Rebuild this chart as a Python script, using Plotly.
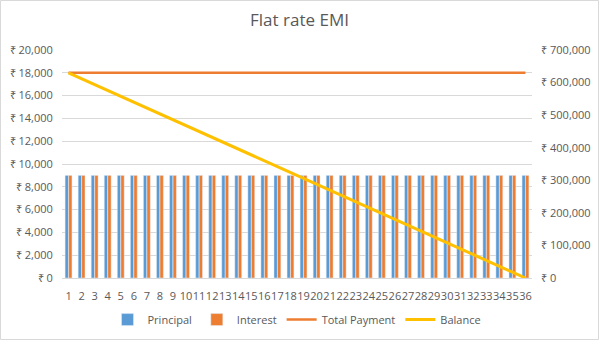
import plotly.graph_objects as go

months = [str(i) for i in range(1, 37)]
principal = [9000] * 36
interest = [9000] * 36
total_payment = [18000] * 36
balance = [630000, 612000, 594000, 576000, 558000, 540000, 522000, 504000, 486000,
           468000, 450000, 432000, 414000, 396000, 378000, 360000, 342000, 324000,
           306000, 288000, 270000, 252000, 234000, 216000, 198000, 180000, 162000,
           144000, 126000, 108000, 90000, 72000, 54000, 36000, 18000, 0]

FONT = "Open Sans"
GREY = "#595959"

fig = go.Figure()
fig.add_trace(go.Bar(x=months, y=principal, name="Principal", marker_color="#5B9BD5"))
fig.add_trace(go.Bar(x=months, y=interest, name="Interest", marker_color="#ED7D31"))
fig.add_trace(go.Scatter(x=months, y=total_payment, name="Total Payment", mode="lines",
                         line=dict(color="#ED7D31", width=2.5)))
fig.add_trace(go.Scatter(x=months, y=balance, name="Balance", mode="lines", yaxis="y2",
                         line=dict(color="#FFC000", width=3)))

L, R, T, B = 62, 67, 50, 62
W, H = 599, 340
pw, ph = W - L - R, H - T - B

fig.update_layout(
    width=W, height=H,
    margin=dict(l=L, r=R, t=T, b=B, autoexpand=False),
    paper_bgcolor="white", plot_bgcolor="white",
    font=dict(family=FONT, size=11, color=GREY),
    title=dict(text="Flat rate EMI", x=0.5, xanchor="center", y=0.94, yanchor="middle",
               font=dict(size=17, color=GREY, family=FONT)),
    barmode="group", bargap=0.46, bargroupgap=0.05,
    showlegend=True,
    legend=dict(orientation="h", x=0.5, xanchor="center", yref="container", y=0.06,
                yanchor="middle", font=dict(size=11, color=GREY), traceorder="normal"),
    xaxis=dict(showgrid=False, showline=True, linecolor="#d9d9d9", linewidth=1,
               tickfont=dict(size=11, color=GREY), ticks="outside", ticklen=8,
               tickcolor="rgba(0,0,0,0)", tickangle=0, automargin=False),
    yaxis=dict(range=[0, 20000], dtick=2000, tickprefix="₹ ", tickformat=",",
               showgrid=True, gridcolor="#d9d9d9", gridwidth=1, zeroline=False,
               tickfont=dict(size=11, color=GREY), ticks="outside", ticklen=6,
               tickcolor="rgba(0,0,0,0)", automargin=False),
    yaxis2=dict(range=[0, 700000], dtick=100000, tickprefix="₹ ", tickformat=",",
                overlaying="y", side="right", showgrid=False, zeroline=False,
                tickfont=dict(size=11, color=GREY), ticks="outside", ticklen=6,
                tickcolor="rgba(0,0,0,0)", automargin=False),
    shapes=[dict(type="rect", xref="paper", yref="paper",
                 x0=(0.5 - L) / pw, x1=(W - 0.5 - L) / pw,
                 y0=(H - B - (H - 0.5)) / ph, y1=(H - B - 0.5) / ph,
                 line=dict(color="#d9d9d9", width=1), layer="below")],
)

fig.write_html("out.html")
